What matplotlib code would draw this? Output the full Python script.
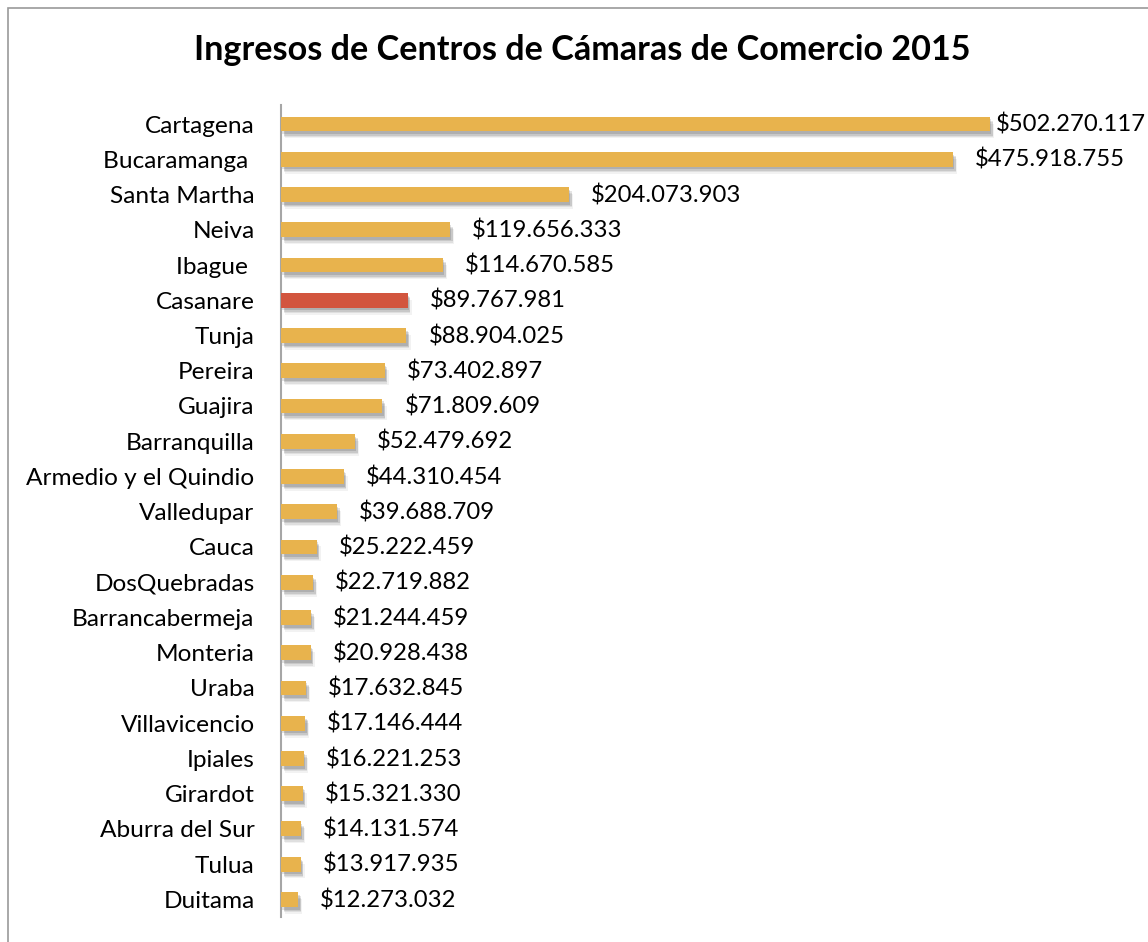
import matplotlib.pyplot as plt
import matplotlib.patheffects as pe
from matplotlib.patches import Rectangle

cities = ["Cartagena", "Bucaramanga ", "Santa Martha", "Neiva", "Ibague ", "Casanare",
          "Tunja", "Pereira", "Guajira", "Barranquilla", "Armedio y el Quindio",
          "Valledupar", "Cauca", "DosQuebradas", "Barrancabermeja", "Monteria",
          "Uraba", "Villavicencio", "Ipiales", "Girardot", "Aburra del Sur",
          "Tulua", "Duitama"]
ingresos = [502270117, 475918755, 204073903, 119656333, 114670585, 89767981,
            88904025, 73402897, 71809609, 52479692, 44310454, 39688709,
            25222459, 22719882, 21244459, 20928438, 17632845, 17146444,
            16221253, 15321330, 14131574, 13917935, 12273032]
highlight = "Casanare"

font = "Lato"
gold = "#E8B34D"
red = "#D2553E"

W, H = 1148, 942
fig = plt.figure(figsize=(W / 100, H / 100), dpi=100)

# chart area frame
fig.patches.append(Rectangle((8 / W, -0.1), 1.2, (H - 8) / H + 0.1,
                             transform=fig.transFigure, fill=False,
                             edgecolor="#9A9A9A", linewidth=1.2))

ax_left = 281
ax = fig.add_axes([ax_left / W, 25 / H, (W - ax_left) / W, 812 / H])
px_per_unit = 1.4116e-6
ax.set_xlim(0, (W - ax_left) / px_per_unit)

colors = [red if c == highlight else gold for c in cities]
y = list(range(len(cities)))
bars = ax.barh(y, ingresos, height=0.42, color=colors, zorder=3)
# soft drop shadow under each bar
shadow = [pe.SimplePatchShadow(offset=(dx, -dy), shadow_rgbFace="#000000", alpha=a)
          for dx, dy, a in [(3, 5, 0.05), (2, 4, 0.08), (2, 3, 0.10), (1, 2, 0.12)]]
for b in bars:
    b.set_path_effects(shadow + [pe.Normal()])

# value labels; keep the longest one from running off the edge
for yi, v in zip(y, ingresos):
    txt = "$" + f"{v:,}".replace(",", ".")
    end_px = ax_left + v * px_per_unit
    gap_px = min(22, 996 - end_px)
    ax.annotate(txt, (v, yi), xytext=(gap_px * 0.72, -0.5), textcoords="offset points",
                va="center", ha="left", fontsize=17.2, family=font,
                color="#000000", annotation_clip=False)

ax.set_ylim(22.5, -0.54)
ax.set_yticks(y)
ax.set_yticklabels(cities, family=font, fontsize=17.6)
ax.tick_params(axis="y", length=0, pad=19)
ax.set_xticks([])
for s in ["top", "right", "bottom"]:
    ax.spines[s].set_visible(False)
ax.spines["left"].set_color("#A6A6A6")
ax.spines["left"].set_linewidth(1.5)

fig.text(582 / W, 1 - 50 / H, "Ingresos de Centros de Cámaras de Comercio 2015",
         ha="center", va="center", fontsize=24.6, fontweight="bold", family=font)

fig.savefig("out.png", dpi=100)
